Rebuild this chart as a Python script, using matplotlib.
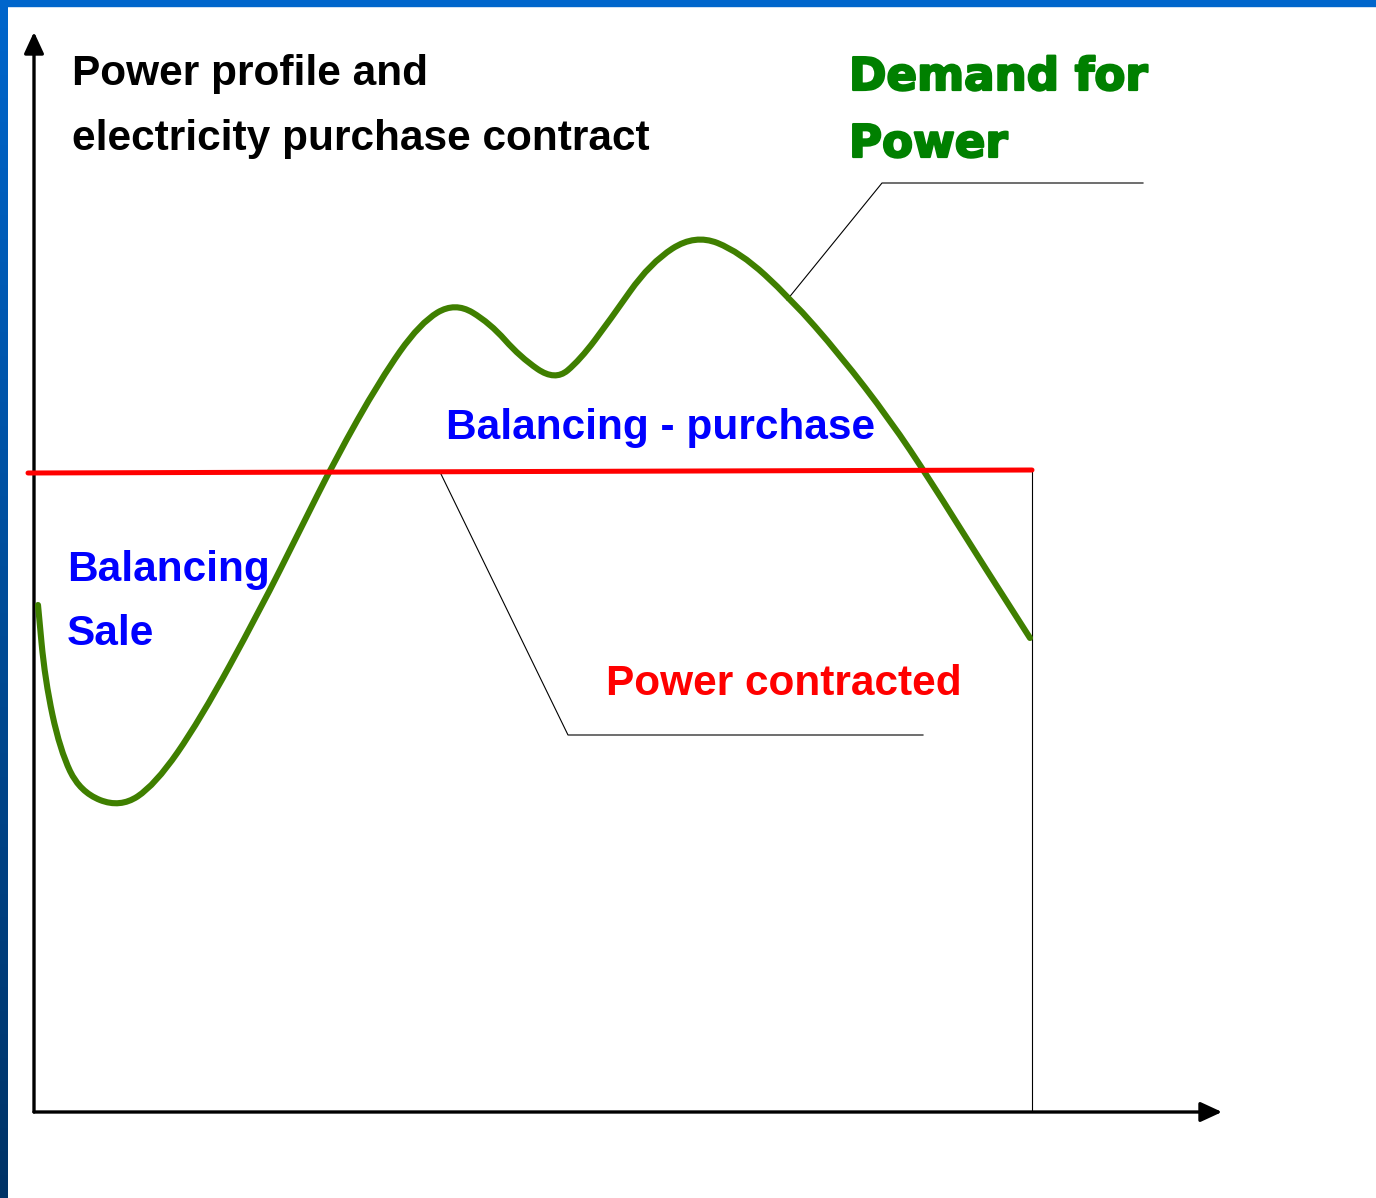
import matplotlib
matplotlib.use("Agg")
import matplotlib.pyplot as plt
import matplotlib.patheffects as pe
import numpy as np
from matplotlib.path import Path
from matplotlib.patches import PathPatch

# Demand profile (time, power) in arbitrary units
demand_t = [0.4, 1.1, 2.6, 4.6, 8.6, 12.1, 16.6, 22.6, 26.6, 30.1, 34.6, 38.6,
            42.1, 45.6, 48.6, 52.1, 54.6, 57.6, 61.6, 66.1, 70.6, 75.6, 80.6,
            85.6, 89.6, 94.6, 99.6]
demand_p = [50.7, 43.2, 36.2, 32.0, 30.4, 32.7, 39.2, 50.2, 58.2, 65.2, 73.2, 78.9,
            81.0, 78.9, 75.5, 73.1, 75.2, 79.2, 84.9, 87.8, 86.0, 81.4, 75.7,
            69.2, 63.2, 55.2, 47.4]
# Contracted power (start / end of the contract period)
contract_t = [-0.6, 99.8]
contract_p = [63.9, 64.2]

GREEN = "#3f7f00"
RED = "#ff0000"
BLUE = "#0000ff"
ARIAL = ["Liberation Sans", "DejaVu Sans"]

W, H = 1376, 1198
fig = plt.figure(figsize=(W / 100, H / 100), dpi=100)

# background / slide frame
bg = fig.add_axes([0, 0, 1, 1])
bg.set_xlim(0, W)
bg.set_ylim(H, 0)
bg.axis("off")
grad = np.linspace(0, 1, 256).reshape(-1, 1)
cmap = matplotlib.colors.LinearSegmentedColormap.from_list("frame", ["#0066cc", "#003366"])
bg.imshow(grad, cmap=cmap, extent=(0, 8, H, 0), aspect="auto", zorder=1)
bg.add_patch(plt.Rectangle((0, 0), W, 6, color="#0066cc", zorder=1))

# chart area
ax = fig.add_axes([34 / W, (H - 1112) / H, (1222 - 34) / W, (1112 - 32) / H])
ax.set_xlim(0, 118.8)
ax.set_ylim(0, 108)
ax.axis("off")
ax.patch.set_alpha(0)

# axes arrows
arrow = dict(arrowstyle="-|>,head_length=1.3,head_width=0.6", color="black",
             lw=2.4, shrinkA=0, shrinkB=0)
ax.annotate("", xy=(1.0, 0), xytext=(0, 0), xycoords="axes fraction",
            arrowprops=arrow, annotation_clip=False)
ax.annotate("", xy=(0, 1.0), xytext=(0, 0), xycoords="axes fraction",
            arrowprops=arrow, annotation_clip=False)

# demand curve (quadratic B-spline through the midpoints)
pts = np.column_stack([demand_t, demand_p])
verts = [pts[0], (pts[0] + pts[1]) / 2]
codes = [Path.MOVETO, Path.LINETO]
for i in range(1, len(pts) - 1):
    verts += [pts[i], (pts[i] + pts[i + 1]) / 2 if i < len(pts) - 2 else pts[i + 1]]
    codes += [Path.CURVE3, Path.CURVE3]
ax.add_patch(PathPatch(Path(verts, codes), facecolor="none", edgecolor=GREEN,
                       lw=4.4, capstyle="round", joinstyle="round", zorder=3,
                       clip_on=False))

# contracted power
ax.plot(contract_t, contract_p, color=RED, lw=3.6, solid_capstyle="round",
        zorder=4, clip_on=False)
ax.plot([contract_t[1]] * 2, [contract_p[1], 0], color="black", lw=0.8, zorder=2)

# leader lines
ax.plot([75.3, 84.8, 110.9], [81.2, 92.9, 92.9], color="black", lw=0.8, zorder=2)
ax.plot([40.6, 53.4, 88.9], [64.0, 37.7, 37.7], color="black", lw=0.8, zorder=2)

# texts (pixel positions on the slide)
bg.text(72, 85, "Power profile and", fontsize=30.5, fontweight="bold",
        family=ARIAL, va="baseline", zorder=5)
bg.text(72, 150, "electricity purchase contract", fontsize=30.5, fontweight="bold",
        family=ARIAL, va="baseline", zorder=5)
heavy = [pe.withStroke(linewidth=1.6, foreground="#008000")]
bg.text(849, 90, "Demand for", fontsize=32.5, fontweight="bold", color="#008000",
        family="DejaVu Sans", va="baseline", zorder=5, path_effects=heavy)
bg.text(849, 157, "Power", fontsize=32.5, fontweight="bold", color="#008000",
        family="DejaVu Sans", va="baseline", zorder=5, path_effects=heavy)
bg.text(446, 439, "Balancing - purchase", fontsize=30.5, fontweight="bold",
        color=BLUE, family=ARIAL, va="baseline", zorder=5)
bg.text(67, 581, "Balancing", fontsize=30.5, fontweight="bold",
        color=BLUE, family=ARIAL, va="baseline", zorder=5)
bg.text(67, 645, "Sale", fontsize=30.5, fontweight="bold",
        color=BLUE, family=ARIAL, va="baseline", zorder=5)
bg.text(606, 695, "Power contracted", fontsize=30.5, fontweight="bold",
        color=RED, family=ARIAL, va="baseline", zorder=5)

fig.savefig("out.png", dpi=100, facecolor="white")
